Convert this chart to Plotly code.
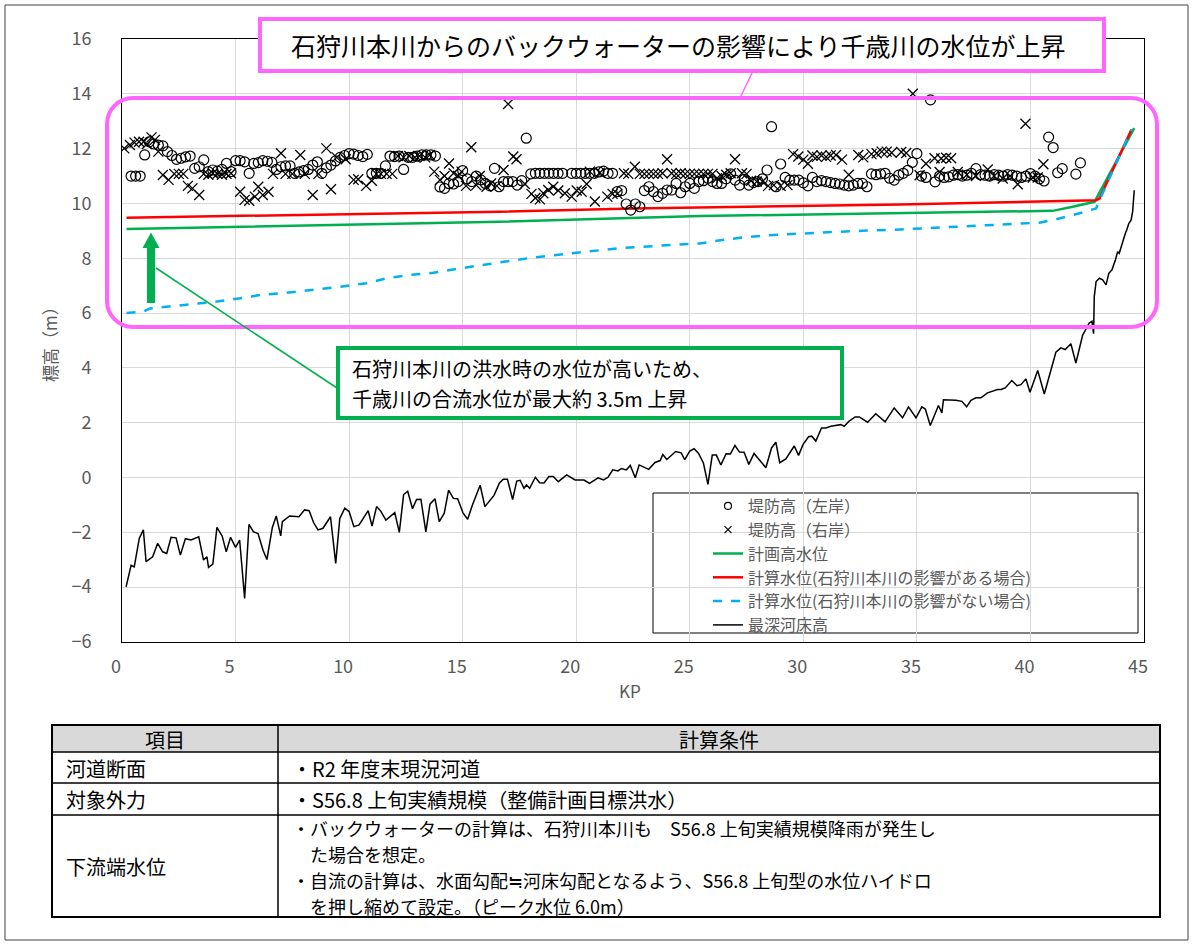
import plotly.graph_objects as go

# ---------------- data ----------------
bed_kp = [0.18, 0.40, 0.54, 0.76, 0.94, 1.06, 1.35, 1.57, 1.79, 1.97, 2.16, 2.38, 2.57, 2.79, 3.04, 3.38,
          3.59, 3.74, 3.81, 4.00, 4.18, 4.41, 4.59, 4.78, 5.00, 5.18, 5.40, 5.59, 5.79, 5.99, 6.21, 6.38,
          6.62, 6.79, 6.99, 7.06, 7.38, 7.79, 8.04, 8.24, 8.44, 8.63, 8.85, 9.18, 9.41, 9.59, 9.81, 10.00,
          10.21, 10.44, 10.84, 11.01, 11.21, 11.38, 11.62, 12.01, 12.21, 12.40, 12.58, 12.79, 12.97, 13.16,
          13.38, 13.56, 13.78, 13.97, 14.19, 14.38, 14.59, 14.78, 15.02, 15.22, 15.43, 15.77, 15.98, 16.38,
          16.62, 16.79, 16.97, 17.20, 17.38, 17.53, 17.70, 17.81, 17.95, 18.20, 18.39, 18.58, 18.80, 18.99,
          19.21, 19.58, 19.95, 20.34, 20.59, 20.96, 21.20, 21.40, 21.61, 21.84, 21.99, 22.21, 22.38, 22.60,
          22.77, 22.99, 23.19, 23.47, 23.70, 23.81, 23.99, 24.38, 24.62, 24.78, 25.00, 25.19, 25.38, 25.60,
          25.80, 25.99, 26.17, 26.37, 26.60, 26.79, 26.99, 27.19, 27.39, 27.60, 27.83, 28.05, 28.35, 28.60,
          28.79, 28.96, 29.23, 29.60, 29.79, 29.99, 30.23, 30.37, 30.55, 30.80, 30.99, 31.21, 31.43, 31.65,
          31.80, 32.02, 32.28, 32.46, 32.83, 33.19, 33.60, 34.00, 34.37, 34.63, 34.96, 35.22, 35.37, 35.59,
          35.95, 36.10, 36.17, 36.72, 36.98, 37.19, 37.38, 37.60, 37.82, 38.11, 38.55, 38.70, 38.89, 39.18,
          39.41, 39.58, 39.80, 39.98, 40.32, 40.61, 41.12, 41.34, 41.53, 41.78, 42.00, 42.30, 42.59, 42.71,
          42.78, 42.81, 42.89, 43.04, 43.18, 43.33, 43.45, 43.59, 43.74, 43.84, 43.91, 43.99, 44.18, 44.24,
          44.33, 44.43, 44.50, 44.57]
bed_z = [-3.99, -3.20, -3.26, -2.22, -1.91, -3.07, -2.89, -2.40, -2.71, -2.77, -2.18, -2.20, -2.83, -2.23, -2.28, -2.16,
         -3.01, -2.89, -3.28, -3.16, -1.82, -2.13, -2.71, -2.18, -2.55, -2.28, -4.41, -1.71, -1.98, -2.04, -2.65, -2.99,
         -1.82, -1.40, -2.13, -1.61, -1.40, -1.43, -1.18, -1.21, -1.65, -1.91, -1.85, -1.43, -3.13, -1.49, -1.12, -1.24,
         -1.79, -1.73, -1.21, -1.77, -1.06, -1.21, -1.55, -1.28, -2.00, -0.62, -0.50, -1.14, -0.80, -0.79,
         -1.98, -0.97, -0.77, -1.61, -1.30, -0.46, -0.76, -0.77, -1.30, -1.52, -1.00, -0.28, -1.06, -0.65,
         -0.20, -0.06, -0.06, -0.80, -0.13, -0.10, -0.39, -0.27, -0.39, 0.01, -0.19, -0.20, 0.04, 0.04,
         -0.15, 0.10, -0.09, -0.09, -0.21, -0.01, -0.09, 0.01, 0.28, 0.24, 0.33, 0.28, 0.44, -0.01,
         0.46, 0.36, 0.30, 0.55, 0.62, 0.84, 0.66, 0.95, 0.90, 0.65, 0.97, 1.05, 0.89, 0.53,
         -0.25, 0.82, 0.82, 0.46, 0.87, 0.86, 1.17, 0.93, 0.92, 0.48, 0.88, 0.66, 0.36, 1.08,
         1.29, 0.54, 0.68, 1.15, 0.81, 1.21, 1.49, 1.51, 1.33, 1.81, 1.81, 1.87, 1.91, 1.93,
         1.87, 2.06, 2.21, 2.21, 2.02, 2.33, 2.03, 2.54, 2.18, 2.58, 2.18, 2.58, 2.50, 1.90,
         2.63, 2.36, 2.84, 2.82, 2.78, 2.58, 2.82, 2.91, 2.91, 3.09, 3.21, 3.21, 3.27, 3.54,
         3.35, 3.39, 3.60, 3.11, 3.91, 3.05, 4.57, 4.73, 4.67, 4.88, 4.18, 5.20, 5.64, 5.70,
         5.25, 6.60, 7.15, 7.27, 7.21, 7.03, 7.45, 7.58, 7.94, 8.24, 8.18, 8.42, 8.91, 9.03,
         9.27, 9.39, 9.70, 10.48]

hwl_kp = [0.2, 16.6, 25.45, 34.24, 40.98, 41.86, 42.82, 44.57]
hwl_z = [9.07, 9.33, 9.54, 9.64, 9.73, 9.88, 10.06, 12.75]

bw_kp = [0.2, 16.64, 22.5, 34.24, 42.89, 43.04, 44.45]
bw_z = [9.48, 9.70, 9.82, 9.96, 10.12, 10.18, 12.70]

nobw_kp = [0.2, 0.94, 1.23, 2.99, 4.17, 5.20, 6.08, 7.25, 8.42, 9.60, 10.77, 11.66, 12.68, 13.71, 14.88,
           16.64, 18.11, 20.02, 21.78, 23.69, 25.45, 26.19, 27.36, 28.68, 29.85, 31.32, 32.79, 34.26,
           40.40, 41.13, 42.16, 42.89, 43.04, 44.45]
nobw_z = [6.00, 6.05, 6.17, 6.32, 6.42, 6.54, 6.66, 6.74, 6.84, 6.96, 7.09, 7.27, 7.39, 7.47, 7.63,
          7.86, 8.03, 8.20, 8.36, 8.46, 8.54, 8.64, 8.76, 8.85, 8.91, 8.96, 9.01, 9.05,
          9.30, 9.42, 9.64, 9.82, 10.12, 12.70]

left_kp = [0.4, 0.6, 0.8, 1.0, 1.2, 1.4, 1.6, 1.8, 2.0, 2.2, 2.4, 2.6, 2.8, 3.0, 3.2, 3.4, 3.6, 3.8, 4.0,
           4.2, 4.4, 4.6, 4.8, 5.0, 5.2, 5.4, 5.6, 5.8, 6.0, 6.2, 6.4, 6.6, 6.8, 7.0, 7.2, 7.4, 7.6, 7.8,
           8.0, 8.2, 8.4, 8.6, 8.8, 9.0, 9.2, 9.4, 9.6, 9.8, 10.0, 10.2, 10.4, 10.6, 10.8, 11.0, 11.2,
           11.4, 11.6, 11.8, 12.0, 12.2, 12.4, 12.6, 12.8, 13.0, 13.2, 13.4, 13.6, 13.8, 14.0, 14.2, 14.4,
           14.6, 14.8, 15.0, 15.2, 15.4, 15.6, 15.8, 16.0, 16.2, 16.4, 16.6, 16.8, 17.0, 17.2, 17.4, 17.6,
           17.8, 18.0, 18.2, 18.4, 18.6, 18.8, 19.0, 19.2, 19.4, 19.8, 20.0, 20.2, 20.4, 20.6, 20.8, 21.0,
           21.2, 21.4, 21.6, 21.8, 22.0, 22.2, 22.4, 22.6, 22.8, 23.0, 23.2, 23.4, 23.6, 23.8, 24.0, 24.2,
           24.4, 24.6, 24.8, 25.0, 25.2, 25.4, 25.6, 25.8, 26.0, 26.2, 26.4, 26.6, 26.8, 27.0, 27.2, 27.4,
           27.6, 27.8, 28.0, 28.2, 28.4, 28.6, 28.8, 29.0, 29.2, 29.4, 29.6, 29.8, 30.0, 30.2, 30.4, 30.6,
           30.8, 31.0, 31.2, 31.4, 31.6, 31.8, 32.0, 32.2, 32.4, 32.6, 32.8, 33.0, 33.2, 33.4, 33.6, 33.8,
           34.0, 34.2, 34.4, 34.6, 34.8, 35.0, 35.2, 35.4, 35.6, 35.8, 36.0, 36.2, 36.4, 36.6, 36.8, 37.0,
           37.2, 37.4, 37.6, 37.8, 38.0, 38.2, 38.4, 38.6, 38.8, 39.0, 39.2, 39.4, 39.6, 39.8, 40.0, 40.2,
           40.4, 40.6, 40.8, 41.0, 41.2, 41.4, 42.0, 42.2]
left_z = [11.0, 11.0, 11.0, 11.77, 12.25, 12.17, 12.13, 12.1, 11.89, 11.75, 11.61, 11.65, 11.7, 11.73, 11.28,
          11.34, 11.59, 11.16, 11.22, 11.18, 11.24, 11.46, 11.16, 11.56, 11.56, 11.52, 11.1, 11.46, 11.49,
          11.56, 11.54, 11.5, 11.24, 11.34, 11.37, 11.37, 11.1, 11.15, 11.2, 11.24, 11.4, 11.52, 11.1, 11.3,
          11.4, 11.55, 11.68, 11.75, 11.82, 11.8, 11.75, 11.71, 11.79, 11.1, 11.1, 11.1, 11.37, 11.73, 11.71,
          11.73, 11.24, 11.68, 11.68, 11.73, 11.77, 11.77, 11.77, 11.73, 10.6, 10.55, 10.72, 10.71, 10.8,
          11.2, 10.9, 10.8, 11.0, 10.86, 10.73, 10.64, 11.28, 10.61, 10.8, 10.8, 10.8, 10.67, 10.83, 12.38,
          11.08, 11.1, 11.1, 11.1, 11.1, 11.1, 11.1, 11.1, 11.1, 11.1, 11.1, 11.1, 11.1, 11.1, 11.15, 11.18,
          11.1, 11.1, 10.43, 10.47, 9.98, 9.76, 9.98, 9.88, 10.47, 10.61, 10.43, 10.25, 10.37, 10.49, 10.49,
          10.73, 10.39, 10.61, 10.73, 10.55, 10.8, 10.83, 10.92, 10.8, 10.73, 10.73, 10.9, 11.08, 10.85,
          10.67, 10.88, 10.67, 10.76, 10.8, 10.9, 11.22, 12.8, 10.61, 11.44, 10.95, 10.85, 10.85, 10.85,
          10.75, 10.64, 10.95, 10.8, 10.83, 10.8, 10.76, 10.73, 10.71, 10.67, 10.64, 10.67, 10.73, 10.73,
          10.61, 11.08, 11.05, 11.08, 11.1, 10.92, 10.85, 11.03, 11.1, 11.21, 11.5, 11.82, 11.0, 10.95,
          13.78, 10.79, 11.0, 10.95, 10.97, 11.03, 11.05, 11.0, 11.03, 11.1, 11.27, 11.05, 11.03, 11.0,
          11.05, 11.03, 11.0, 11.05, 11.03, 11.0, 10.95, 11.0, 11.09, 11.0, 10.9, 10.82, 12.42, 12.04,
          11.12, 11.27, 11.07, 11.48]

right_kp = [0.1, 0.35, 0.55, 0.75, 0.95, 1.1, 1.3, 1.45, 1.6, 1.8, 2.05, 2.3, 2.5, 2.7, 2.9, 3.1, 3.4,
            3.6, 3.8, 4.0, 4.2, 4.4, 4.6, 4.8, 5.2, 5.4, 5.6, 5.85, 6.0, 6.2, 6.45, 6.65, 7.0, 7.2, 7.5,
            7.85, 8.05, 8.4, 8.65, 9.0, 9.2, 9.45, 9.85, 10.2, 10.4, 10.75, 11.0, 11.2, 11.4, 11.65, 11.9,
            12.15, 12.4, 12.65, 12.9, 13.1, 13.35, 13.55, 13.75, 14.0, 14.2, 14.4, 14.6, 14.8, 14.95, 15.15,
            15.38, 15.6, 15.75, 16.05, 16.25, 16.5, 16.8, 17.0, 17.23, 17.37, 17.74, 18.03, 18.2, 18.4, 18.55,
            18.77, 18.99, 19.21, 19.5, 19.8, 20.02, 20.24, 20.46, 20.6, 20.82, 21.04, 21.37, 21.6, 21.81,
            22.1, 22.29, 22.58, 22.8, 23.0, 23.2, 23.4, 23.6, 23.8, 24.0, 24.2, 24.4, 24.6, 24.8, 25.0, 25.2,
            25.4, 25.6, 25.8, 26.0, 26.2, 26.4, 26.6, 26.8, 26.99, 27.3, 27.5, 27.7, 27.95, 28.2, 28.45, 28.7,
            29.0, 29.3, 29.55, 29.78, 30.0, 30.2, 30.4, 30.6, 30.8, 31.0, 31.2, 31.44, 31.7, 32.0, 32.42,
            32.64, 33.0, 33.23, 33.45, 33.67, 33.89, 34.31, 34.53, 34.82, 35.12, 35.4, 35.78, 36.0, 36.07,
            36.29, 36.51, 36.8, 37.2, 37.6, 38.12, 38.4, 38.78, 39.1, 39.44, 39.78, 40.1, 40.32, 40.57]
right_z = [12.01, 12.13, 12.22, 12.25, 12.25, 12.17, 12.41, 12.32, 11.89, 11.04, 10.86, 11.08, 11.08, 11.08,
           10.64, 10.55, 10.31, 11.08, 11.05, 11.1, 11.08, 11.05, 11.08, 11.1, 10.43, 10.13, 10.1, 10.25,
           10.61, 10.31, 10.43, 11.08, 11.83, 11.08, 11.08, 11.77, 11.08, 10.31, 11.08, 12.01, 10.52, 11.68,
           11.61, 10.86, 10.88, 10.64, 10.83, 11.08, 11.08, 11.08, 11.08, 11.73, 11.68, 11.73, 11.68, 11.73,
           11.68, 11.77, 11.16, 10.86, 11.0, 11.46, 11.1, 11.0, 11.16, 10.64, 12.05, 10.67, 11.0, 10.61,
           10.73, 10.64, 11.22, 13.63, 11.71, 11.61, 10.71, 10.35, 10.2, 10.15, 10.37, 10.49, 10.61, 10.47,
           10.37, 10.25, 10.47, 10.43, 10.71, 11.16, 10.07, 11.12, 10.25, 10.35, 10.35, 11.1, 11.08, 11.34,
           11.08, 11.08, 11.08, 11.08, 11.08, 11.1, 11.61, 11.1, 11.08, 11.1, 11.08, 11.08, 11.08, 11.08,
           11.08, 11.08, 11.08, 10.92, 11.0, 11.05, 11.1, 11.61, 11.1, 11.08, 10.83, 10.8, 10.8, 10.64,
           10.67, 10.64, 10.67, 11.8, 11.71, 11.6, 11.45, 11.75, 11.7, 11.75, 11.7, 11.75, 11.77, 11.6,
           11.05, 11.77, 11.68, 11.8, 11.83, 11.89, 11.89, 11.85, 11.88, 11.84, 14.0, 11.03, 11.45, 11.65,
           11.15, 11.64, 11.67, 11.65, 11.15, 11.05, 11.0, 11.24, 11.0, 10.91, 11.0, 10.7, 12.91, 10.95,
           10.95, 11.43]

x_ticks = [0, 5, 10, 15, 20, 25, 30, 35, 40, 45]
y_ticks = [-6, -4, -2, 0, 2, 4, 6, 8, 10, 12, 14, 16]

names = ["堤防高（左岸）", "堤防高（右岸）", "計画高水位",
         "計算水位(石狩川本川の影響がある場合)", "計算水位(石狩川本川の影響がない場合)", "最深河床高"]

table_head = ["項目", "計算条件"]
table_rows = [
    ("河道断面", ["・R2 年度末現況河道"]),
    ("対象外力", ["・S56.8 上旬実績規模（整備計画目標洪水）"]),
    ("下流端水位", ["・バックウォーターの計算は、石狩川本川も　S56.8 上旬実績規模降雨が発生し",
                "た場合を想定。",
                "・自流の計算は、水面勾配≒河床勾配となるよう、S56.8 上旬型の水位ハイドロ",
                "を押し縮めて設定。（ピーク水位 6.0m）"]),
]
title_top = "石狩川本川からのバックウォーターの影響により千歳川の水位が上昇"
note_lines = ["石狩川本川の洪水時の水位が高いため、", "千歳川の合流水位が最大約 3.5m 上昇"]

# ---------------- layout helpers ----------------
FW, FH = 1197, 947
L, R, T, B = 122, 1144, 39, 642
W, H = R - L, B - T
FONT = "Noto Sans CJK JP"
GREY = "#595959"
MAG = "#ff66ff"
GRN = "#00b050"


def X(px):
    return (px - L) / W


def Y(py):
    return (B - py) / H


def rrect_path(x0, y0, x1, y1, r):
    k = 0.5523 * r
    pts = [("M", [(x0 + r, y0)]), ("L", [(x1 - r, y0)]),
           ("C", [(x1 - r + k, y0), (x1, y0 + r - k), (x1, y0 + r)]),
           ("L", [(x1, y1 - r)]),
           ("C", [(x1, y1 - r + k), (x1 - r + k, y1), (x1 - r, y1)]),
           ("L", [(x0 + r, y1)]),
           ("C", [(x0 + r - k, y1), (x0, y1 - r + k), (x0, y1 - r)]),
           ("L", [(x0, y0 + r)]),
           ("C", [(x0, y0 + r - k), (x0 + r - k, y0), (x0 + r, y0)])]
    s = ""
    for cmd, ps in pts:
        s += cmd + " ".join(f"{X(a):.5f},{Y(b):.5f}" for a, b in ps) + " "
    return s + "Z"


def poly_path(points):
    return "M" + " L".join(f"{X(a):.5f},{Y(b):.5f}" for a, b in points) + " Z"


fig = go.Figure()

# legend-only entries for markers (small symbols as in the reference legend)
fig.add_trace(go.Scatter(x=[None], y=[None], mode="markers", name=names[0],
                         marker=dict(symbol="circle-open", size=7, color="black", line=dict(width=1.2))))
fig.add_trace(go.Scatter(x=[None], y=[None], mode="markers", name=names[1],
                         marker=dict(symbol="x-thin-open", size=7, color="black", line=dict(width=1.2))))

fig.add_trace(go.Scatter(x=hwl_kp, y=hwl_z, mode="lines", name=names[2],
                         line=dict(color=GRN, width=2.5)))
fig.add_trace(go.Scatter(x=bw_kp, y=bw_z, mode="lines", name=names[3],
                         line=dict(color="#ff0000", width=2.5)))
fig.add_trace(go.Scatter(x=nobw_kp, y=nobw_z, mode="lines", name=names[4],
                         line=dict(color="#00b0f0", width=2.5, dash="dash")))
fig.add_trace(go.Scatter(x=bed_kp, y=bed_z, mode="lines", name=names[5],
                         line=dict(color="black", width=1.5)))

fig.add_trace(go.Scatter(x=left_kp, y=left_z, mode="markers", showlegend=False, name=names[0],
                         marker=dict(symbol="circle-open", size=10, color="black", line=dict(width=1.2))))
fig.add_trace(go.Scatter(x=right_kp, y=right_z, mode="markers", showlegend=False, name=names[1],
                         marker=dict(symbol="x-thin-open", size=10, color="black", line=dict(width=1.3))))

shapes = []
# outer frame
shapes.append(dict(type="rect", xref="paper", yref="paper", x0=X(5), x1=X(1188), y0=Y(5), y1=Y(940),
                   line=dict(color="#404040", width=1), layer="below"))
# legend box
shapes.append(dict(type="rect", xref="paper", yref="paper", x0=X(653), x1=X(1138), y0=Y(493), y1=Y(633),
                   line=dict(color="black", width=1), fillcolor="white", layer="between"))
# magenta rounded rectangle
shapes.append(dict(type="path", xref="paper", yref="paper", path=rrect_path(107, 98, 1157, 327, 26),
                   line=dict(color=MAG, width=4), layer="above"))
# magenta connector
shapes.append(dict(type="line", xref="paper", yref="paper", x0=X(753), y0=Y(71), x1=X(740), y1=Y(98),
                   line=dict(color=MAG, width=1.5), layer="above"))
# top title box
shapes.append(dict(type="rect", xref="paper", yref="paper", x0=X(260), x1=X(1104), y0=Y(19), y1=Y(71),
                   line=dict(color=MAG, width=4), fillcolor="white", layer="above"))
# green connector line
shapes.append(dict(type="line", xref="paper", yref="paper", x0=X(340), y0=Y(390), x1=X(156), y1=Y(268),
                   line=dict(color=GRN, width=1.5), layer="above"))
# green note box
shapes.append(dict(type="rect", xref="paper", yref="paper", x0=X(338), x1=X(842), y0=Y(348), y1=Y(418),
                   line=dict(color=GRN, width=4), fillcolor="white", layer="above"))
# green arrow
shapes.append(dict(type="path", xref="paper", yref="paper",
                   path=poly_path([(147, 303), (147, 248), (142.5, 248), (151, 232.5), (159.5, 248),
                                   (155, 248), (155, 303)]),
                   line=dict(color=GRN, width=0), fillcolor=GRN, layer="above"))

# table
TL, TR, TC = 52, 1160, 278
ty = [725, 752, 783, 815, 917]
shapes.append(dict(type="rect", xref="paper", yref="paper", x0=X(TL), x1=X(TR), y0=Y(ty[0]), y1=Y(ty[1]),
                   line=dict(width=0), fillcolor="#d9d9d9", layer="above"))
for yy in ty[1:-1]:
    shapes.append(dict(type="line", xref="paper", yref="paper", x0=X(TL), x1=X(TR), y0=Y(yy), y1=Y(yy),
                       line=dict(color="black", width=1.5), layer="above"))
shapes.append(dict(type="line", xref="paper", yref="paper", x0=X(TC), x1=X(TC), y0=Y(ty[0]), y1=Y(ty[-1]),
                   line=dict(color="black", width=1.5), layer="above"))
shapes.append(dict(type="rect", xref="paper", yref="paper", x0=X(TL), x1=X(TR), y0=Y(ty[0]), y1=Y(ty[-1]),
                   line=dict(color="black", width=2), layer="above"))

ann = []
ann.append(dict(text=title_top, x=X(678), y=Y(45), xref="paper", yref="paper", showarrow=False,
                xanchor="center", yanchor="middle", font=dict(family=FONT, size=25, color="black")))
for txt, yy in zip(note_lines, [368, 398]):
    ann.append(dict(text=txt, x=X(350), y=Y(yy), xref="paper", yref="paper", showarrow=False,
                    xanchor="left", yanchor="middle", font=dict(family=FONT, size=20, color="black")))
ann.append(dict(text="標高（m）", x=X(50), y=Y(340), xref="paper", yref="paper", showarrow=False,
                textangle=-90, xanchor="center", yanchor="middle", font=dict(family=FONT, size=17, color=GREY)))
ann.append(dict(text="KP", x=X(630), y=Y(690), xref="paper", yref="paper", showarrow=False,
                xanchor="center", yanchor="middle", font=dict(family=FONT, size=17, color=GREY)))

tf = dict(family=FONT, size=20, color="black")
tf_small = dict(family=FONT, size=18, color="black")
ann.append(dict(text=table_head[0], x=X((TL + TC) / 2), y=Y(739), xref="paper", yref="paper", showarrow=False,
                xanchor="center", yanchor="middle", font=tf))
ann.append(dict(text=table_head[1], x=X((TC + TR) / 2), y=Y(739), xref="paper", yref="paper", showarrow=False,
                xanchor="center", yanchor="middle", font=tf))
row_label_y = [768, 799, 866]
row_line_y = [[768], [799], [828, 854, 880, 906]]
row_line_x = [[290], [290], [290, 308, 290, 308]]
for (lab, lines), ly, ys, xs in zip(table_rows, row_label_y, row_line_y, row_line_x):
    ann.append(dict(text=lab, x=X(64), y=Y(ly), xref="paper", yref="paper", showarrow=False,
                    xanchor="left", yanchor="middle", font=tf))
    f = tf if len(lines) == 1 else tf_small
    for txt, yy, xx in zip(lines, ys, xs):
        ann.append(dict(text=txt, x=X(xx), y=Y(yy), xref="paper", yref="paper", showarrow=False,
                        xanchor="left", yanchor="middle", font=f))

fig.update_layout(
    width=FW, height=FH,
    margin=dict(l=L, r=FW - R, t=T, b=FH - B),
    plot_bgcolor="white", paper_bgcolor="white",
    font=dict(family=FONT, color=GREY),
    shapes=shapes, annotations=ann,
    legend=dict(x=X(708), y=Y(489), xanchor="left", yanchor="top", bgcolor="rgba(0,0,0,0)",
                borderwidth=0, font=dict(family=FONT, size=16, color=GREY), traceorder="normal"),
)
fig.update_xaxes(range=[0, 45], tickvals=x_ticks, showgrid=True, gridcolor="#d9d9d9", gridwidth=1,
                 showline=True, linecolor="black", linewidth=1, mirror=True, zeroline=False, ticks="",
                 tickfont=dict(family=FONT, size=18, color=GREY), ticklabelstandoff=8, ticklabelshift=-6)
fig.update_yaxes(range=[-6, 16], tickvals=y_ticks, showgrid=True, gridcolor="#d9d9d9", gridwidth=1,
                 showline=True, linecolor="black", linewidth=1, mirror=True, zeroline=False, ticks="",
                 tickfont=dict(family=FONT, size=18, color=GREY), ticklabelstandoff=26)

fig.write_html("out.html")
